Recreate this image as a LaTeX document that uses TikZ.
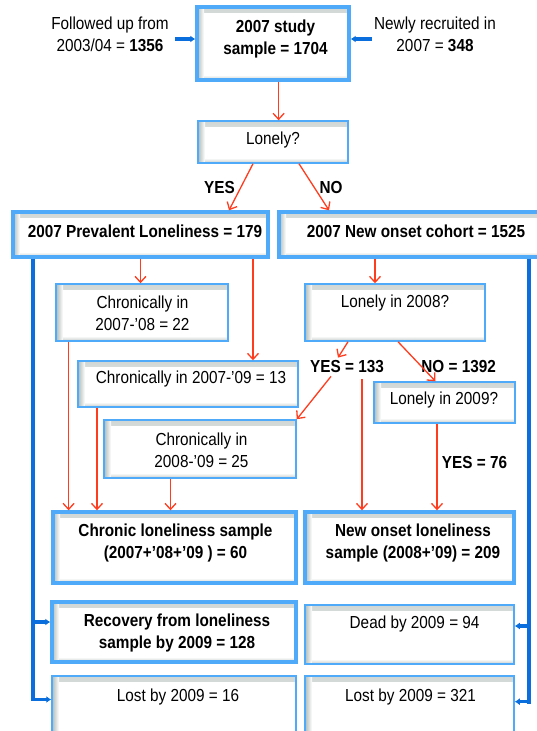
\documentclass[tikz,border=0pt]{standalone}
\usepackage{fontspec}
\setmainfont{Liberation Sans}[FakeStretch=0.88]
\usetikzlibrary{arrows.meta}
\definecolor{boxblue}{RGB}{80,170,250}
\definecolor{lineblue}{RGB}{10,110,220}
\definecolor{arrred}{RGB}{255,60,30}
\definecolor{shd}{RGB}{150,165,160}
\newcommand\myfs{\fontsize{17.4}{22}\selectfont}
\tikzset{
  box/.style={draw=boxblue, fill=white, inner sep=0pt,
    path picture={
      \shade[top color=shd!45, bottom color=white]
        ([xshift=7pt]path picture bounding box.north west) rectangle ([yshift=-5pt]path picture bounding box.north east);
      \shade[left color=shd!75, right color=white]
        (path picture bounding box.south west) rectangle ([xshift=7pt]path picture bounding box.north west);
      \shade[bottom color=shd!55, top color=white]
        ([xshift=7pt]path picture bounding box.south west) rectangle ([yshift=5pt]path picture bounding box.south east);
    }},
  thickbox/.style={box, line width=3.4pt},
  thinbox/.style={box, line width=1.5pt},
  txt/.style={inner sep=0pt, align=center, font=\myfs},
  btxt/.style={inner sep=0pt, align=center, font=\myfs\bfseries},
  redarr/.style={draw=arrred, line width=1.3pt, -{Straight Barb[length=6pt,width=11pt,line width=1.3pt]}},
  bluearr/.style={draw=lineblue, line width=3.2pt, -{Latex[length=5pt,width=7pt]}},
  blueline/.style={draw=lineblue, line width=4pt}
}
\begin{document}
\begin{tikzpicture}[x=1pt,y=-1pt]
\useasboundingbox (0,0) rectangle (536,731);
% boxes
\node[thickbox, minimum width=152pt, minimum height=73pt] (study) at (273,43.5) {};
\node[thinbox, minimum width=150pt, minimum height=42pt] (lonely) at (273,142) {};
\node[thickbox, minimum width=255pt, minimum height=45pt] (prev) at (140.5,234.5) {};
\node[thickbox, minimum width=274pt, minimum height=45pt] (newc) at (416,234.5) {};
\node[thinbox, minimum width=172pt, minimum height=57pt] (c22) at (142,312.5) {};
\node[thinbox, minimum width=220pt, minimum height=46pt] (c13) at (188,384) {};
\node[thinbox, minimum width=192pt, minimum height=58pt] (c25) at (200,449) {};
\node[thinbox, minimum width=180pt, minimum height=57pt] (l2008) at (395,312.5) {};
\node[thinbox, minimum width=141pt, minimum height=41pt] (l2009) at (444.5,402.5) {};
\node[thickbox, minimum width=243pt, minimum height=71pt] (chronic) at (174.5,547.5) {};
\node[thickbox, minimum width=209pt, minimum height=71pt] (newsamp) at (409.5,547.5) {};
\node[thickbox, minimum width=244pt, minimum height=60pt] (recovery) at (174,632) {};
\node[thinbox, minimum width=209pt, minimum height=59pt] (dead) at (409.5,634.5) {};
\node[thinbox, minimum width=244pt, minimum height=74pt] (lost16) at (174,713) {};
\node[thinbox, minimum width=209pt, minimum height=74pt] (lost321) at (409.5,713) {};
% texts
\node[btxt] (tstudy) at (275.5,39) {2007 study\\sample = 1704};
\node[txt] (tfollow) at (110,34) {Followed up from\\2003/04 = \textbf{1356}};
\node[txt] (tnewly) at (435,34) {Newly recruited in\\2007 = \textbf{348}};
\node[txt] (tlonely) at (273,140) {Lonely?};
\node[btxt] (yes) at (219.5,188) {YES};
\node[btxt] (no) at (331,188) {NO};
\node[btxt] (tprev) at (145,231) {2007 Prevalent Loneliness = 179};
\node[btxt] (tnewc) at (416,231) {2007 New onset cohort = 1525};
\node[txt] (tc22) at (142.5,313.5) {Chronically in\\2007-’08 = 22};
\node[txt] (tc13) at (191,379) {Chronically in 2007-’09 = 13};
\node[txt] (tc25) at (201.5,450) {Chronically in\\2008-’09 = 25};
\node[txt] (tl2008) at (395,303) {Lonely in 2008?};
\node[btxt, inner ysep=3pt] (yes133) at (347,367) {YES = 133};
\node[btxt] (no1392) at (458.6,367) {NO = 1392};
\node[txt] (tl2009) at (444,400) {Lonely in 2009?};
\node[btxt] (yes76) at (474.5,463) {YES = 76};
\node[btxt] (tchronic) at (175.5,543) {Chronic loneliness sample\\(2007+’08+’09 ) = 60};
\node[btxt] (tnewsamp) at (413,543) {New onset loneliness\\sample (2008+’09) = 209};
\node[btxt] (trecovery) at (177,633) {Recovery from loneliness\\sample by 2009 = 128};
\node[txt] (tdead) at (414.6,624.3) {Dead by 2009 = 94};
\node[txt] (tlost16) at (178,697) {Lost by 2009 = 16};
\node[txt] (tlost321) at (410.5,697) {Lost by 2009 = 321};
% red connectors
\coordinate (s1) at ([xshift=5.6pt]study.south);
\draw[redarr] (s1) -- (s1 |- lonely.north);
\draw[redarr] ([xshift=-20pt]lonely.south) -- ([xshift=88.5pt]prev.north);
\draw[redarr] ([xshift=26pt]lonely.south) -- ([xshift=-87pt]newc.north);
\draw[redarr] (prev.south) -- (prev.south |- c22.north);
\coordinate (p2) at ([xshift=112.5pt]prev.south);
\draw[redarr] (p2) -- (p2 |- c13.north);
\coordinate (n1) at ([xshift=-41pt]newc.south);
\draw[redarr] (n1) -- (n1 |- l2008.north);
\coordinate (a1) at ([xshift=-73.4pt]c22.south);
\draw[redarr] (a1) -- (a1 |- chronic.north);
\coordinate (a2) at ([xshift=-91pt]c13.south);
\draw[redarr] (a2) -- (a2 |- chronic.north);
\coordinate (a3) at ([xshift=-29.5pt]c25.south);
\draw[redarr] (a3) -- (a3 |- chronic.north);
\draw[redarr] ([xshift=-47pt]l2008.south) -- ([xshift=-9pt]yes133.north);
\draw[redarr] ([xshift=-16pt]yes133.south) -- (c25.north east);
\coordinate (a4) at ([xshift=15pt,yshift=-3pt]yes133.south);
\draw[redarr] (a4) -- (a4 |- newsamp.north);
\draw[redarr] ([xshift=3pt]l2008.south) -- ([xshift=-9pt]l2009.north);
\coordinate (a5) at ([xshift=-7.5pt]l2009.south);
\draw[redarr] (a5) -- (a5 |- newsamp.north);
% blue connectors
\coordinate (fl) at (175,39);
\draw[bluearr] (fl) -- (fl -| study.west);
\coordinate (fr) at (371.5,39);
\draw[bluearr] (fr) -- (fr -| study.east);
\coordinate (lt0) at ([xshift=-107.5pt]prev.south);
\coordinate (lt) at (33,701);
\draw[blueline] (lt0) -- (lt);
\coordinate (la1) at (33,622);
\draw[bluearr] (la1) -- (la1 -| recovery.west);
\coordinate (la2) at (33,699.5);
\draw[bluearr] (la2) -- (la2 -| lost16.west);
\coordinate (rt0) at ([xshift=112.5pt]newc.south);
\coordinate (rt) at (528.5,703.5);
\draw[blueline] (rt0) -- (rt);
\coordinate (ra1) at (528.5,626);
\draw[bluearr] (ra1) -- (ra1 -| dead.east);
\coordinate (ra2) at (528.5,701.7);
\draw[bluearr] (ra2) -- (ra2 -| lost321.east);
\end{tikzpicture}
\end{document}
